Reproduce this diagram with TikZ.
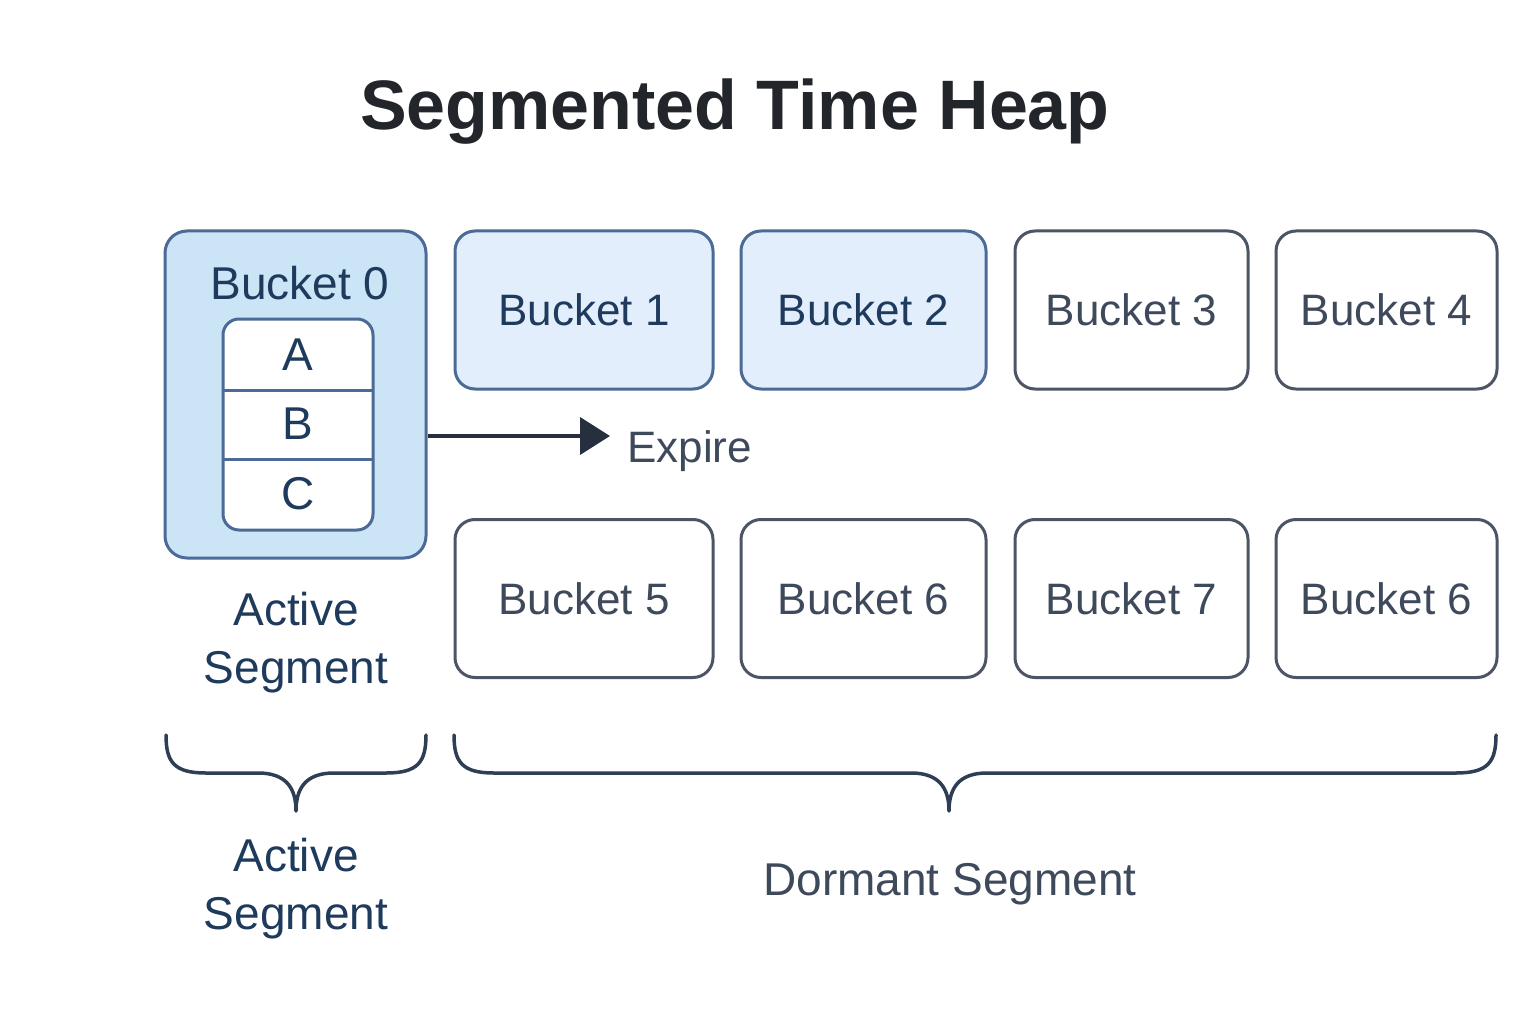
\documentclass[tikz,border=0pt]{standalone}
\usepackage{fontspec}
\setmainfont{Liberation Sans}
\usetikzlibrary{arrows.meta}
\definecolor{titlec}{HTML}{22262B}
\definecolor{fillzero}{HTML}{CBE4F6}
\definecolor{fillone}{HTML}{E2EEFB}
\definecolor{blueedge}{HTML}{4C6A96}
\definecolor{greyedge}{HTML}{4B5565}
\definecolor{navytext}{HTML}{1E3A5C}
\definecolor{greytext}{HTML}{3E4A5C}
\definecolor{arrowc}{HTML}{262F3D}
\definecolor{bracec}{HTML}{2D3E55}
\tikzset{
  bucketbox/.style={draw=greyedge, line width=3pt, rounded corners=20pt, fill=white,
    minimum height=158pt, inner sep=0pt, text=greytext,
    font=\fontsize{44}{50}\selectfont},
  hotbox/.style={bucketbox, draw=blueedge, fill=fillone, text=navytext},
  slotlbl/.style={inner sep=0pt, text=navytext, font=\fontsize{46}{50}\selectfont},
  seglbl/.style={inner sep=0pt, align=center, text=navytext, font=\fontsize{46}{58}\selectfont},
  bracestyle/.style={draw=bracec, line width=3.5pt, line cap=round, line join=round},
}
\begin{document}
\begin{tikzpicture}[x=1pt,y=-1pt]
\useasboundingbox[fill=white] (0,0) rectangle (1536,1024);
% title
\node[inner sep=0pt, text=titlec, font=\bfseries\fontsize{70}{80}\selectfont] (title) at (735,112) {Segmented Time Heap};
% bucket 0
\node[draw=blueedge, line width=3pt, rounded corners=22pt, fill=fillzero,
  minimum width=261pt, minimum height=327pt, inner sep=0pt] (b0) at (295.5,394.5) {};
\node[slotlbl] (b0lbl) at (300,283) {Bucket 0};
\node[draw=blueedge, line width=3pt, rounded corners=16pt, fill=white,
  minimum width=150pt, minimum height=211pt, inner sep=0pt] (stack) at (298,424.5) {};
\draw[blueedge, line width=3pt] (223,390) -- (373,390);
\draw[blueedge, line width=3pt] (223,459) -- (373,459);
\node[slotlbl] (sa) at (298,355) {A};
\node[slotlbl] (sb) at (298,424) {B};
\node[slotlbl] (sc) at (298,494) {C};
% top row
\node[hotbox, minimum width=258pt] (b1) at (584,310) {Bucket 1};
\node[hotbox, minimum width=245pt] (b2) at (863.5,310) {Bucket 2};
\node[bucketbox, minimum width=233pt] (b3) at (1131.5,310) {Bucket 3};
\node[bucketbox, minimum width=221pt] (b4) at (1386.5,310) {Bucket 4};
% bottom row
\node[bucketbox, minimum width=258pt] (b5) at (584,598.5) {Bucket 5};
\node[bucketbox, minimum width=245pt] (b6) at (863.5,598.5) {Bucket 6};
\node[bucketbox, minimum width=233pt] (b7) at (1131.5,598.5) {Bucket 7};
\node[bucketbox, minimum width=221pt] (b8) at (1386.5,598.5) {Bucket 6};
% expire arrow
\coordinate (expend) at (610,436);
\draw[arrowc, line width=4pt, -{Triangle[length=30pt,width=37pt]}] (b0.east |- expend) -- (expend);
\node[inner sep=0pt, anchor=west, text=greytext, font=\fontsize{44}{50}\selectfont] (expire) at (627,451) {Expire};
% labels
\node[seglbl] (act1) at (296,643) {Active\\Segment};
% braces
\draw[bracestyle] (166,735) .. controls (166,762) and (174,773) .. (206,773) -- (258,773)
  .. controls (286,773) and (296,788) .. (296,811)
  .. controls (296,788) and (306,773) .. (334,773) -- (386,773)
  .. controls (418,773) and (426,762) .. (426,735);
\draw[bracestyle] (454,735) .. controls (454,762) and (462,773) .. (494,773) -- (911,773)
  .. controls (939,773) and (949,788) .. (949,811)
  .. controls (949,788) and (959,773) .. (987,773) -- (1456,773)
  .. controls (1488,773) and (1496,762) .. (1496,735);
\node[seglbl] (act2) at (296,889) {Active\\Segment};
\node[inner sep=0pt, text=greytext, font=\fontsize{46}{58}\selectfont] (dorm) at (950,884.5) {Dormant Segment};
\end{tikzpicture}
\end{document}
